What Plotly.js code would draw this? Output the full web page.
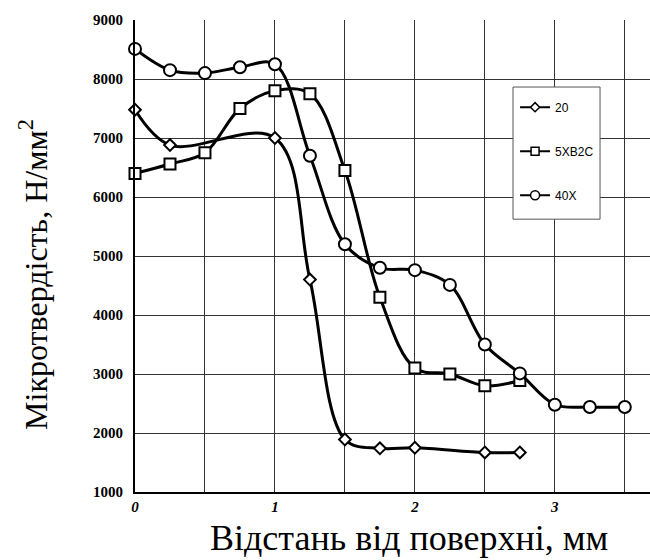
<!DOCTYPE html>
<html>
<head>
<meta charset="utf-8">
<script src="https://cdn.plot.ly/plotly-3.0.1.min.js"></script>
<style>html,body{margin:0;padding:0;background:#fff;overflow:hidden}</style>
</head>
<body>
<div id="chart" style="width:650px;height:560px"></div>
<script>
const seriesNames = ['20', '5XB2C', '40X'];
const x20 = [0, 0.25, 1.0, 1.25, 1.5, 1.75, 2.0, 2.5, 2.75];
const y20 = [7480, 6880, 7000, 4600, 1890, 1740, 1750, 1670, 1670];
const x5 = [0, 0.25, 0.5, 0.75, 1.0, 1.25, 1.5, 1.75, 2.0, 2.25, 2.5, 2.75];
const y5 = [6400, 6560, 6750, 7500, 7800, 7750, 6450, 4300, 3100, 3000, 2800, 2890];
const x40 = [0, 0.25, 0.5, 0.75, 1.0, 1.25, 1.5, 1.75, 2.0, 2.25, 2.5, 2.75, 3.0, 3.25, 3.5];
const y40 = [8510, 8150, 8100, 8200, 8250, 6700, 5200, 4800, 4760, 4510, 3500, 3010, 2480, 2440, 2440];
const xTickVals = [0, 1, 2, 3];
const xTickText = ['0', '1', '2', '3'];
const yTickVals = [1000, 2000, 3000, 4000, 5000, 6000, 7000, 8000, 9000];
const xTitle = 'Відстань від поверхні, мм';
const yTitle = 'Мікротвердість, Н/мм<sup>2</sup>';

const symbols = ['diamond', 'square', 'circle'];
const sizes = [9, 11, 12];
const legendSizes = [7, 8, 9];
const xs = [x20, x5, x40];
const ys = [y20, y5, y40];

const traces = seriesNames.map((n, i) => ({
  x: xs[i], y: ys[i], name: n, type: 'scatter', mode: 'lines+markers',
  showlegend: false,
  line: {color: '#000', width: 3, shape: 'spline', smoothing: 1},
  marker: {symbol: symbols[i], size: sizes[i], color: '#fff', line: {color: '#000', width: 2}},
  cliponaxis: false
}));
// legend-only entries (thinner sample lines, smaller markers, as in the reference legend)
seriesNames.forEach((n, i) => traces.push({
  x: [null], y: [null], name: n, type: 'scatter', mode: 'lines+markers',
  legendgroup: 'g' + i, showlegend: true,
  line: {color: '#000', width: 2},
  marker: {symbol: symbols[i], size: legendSizes[i], color: '#fff', line: {color: '#000', width: 1.5}}
}));

const gridStyle = {showgrid: true, gridcolor: '#333', gridwidth: 1};

const layout = {
  width: 650, height: 560,
  margin: {l: 135, r: 0, t: 20, b: 68},
  paper_bgcolor: '#fff', plot_bgcolor: '#fff',
  showlegend: true,
  legend: {
    x: 0.738, y: 0.846, xanchor: 'left', yanchor: 'top',
    bgcolor: 'rgba(0,0,0,0)', borderwidth: 0,
    font: {family: 'Liberation Sans, Arial', size: 12, color: '#000'},
    tracegroupgap: 25, itemwidth: 30
  },
  shapes: [{
    type: 'rect', xref: 'paper', yref: 'paper', layer: 'above',
    x0: 0.734, x1: 0.903, y0: 0.578, y1: 0.858,
    fillcolor: '#fff', line: {color: '#555', width: 1}
  }],
  xaxis: Object.assign({
    range: [0, 3.68], tickvals: xTickVals, ticktext: xTickText,
    minor: {dtick: 0.5, tick0: 0, showgrid: true, gridcolor: '#333', gridwidth: 1, ticks: ''},
    showline: true, linecolor: '#000', linewidth: 2, zeroline: false,
    ticks: '', tickfont: {family: 'Liberation Serif', size: 15, color: '#000', weight: 'bold', style: 'italic'},
    automargin: false
  }, gridStyle),
  yaxis: Object.assign({
    range: [1000, 9000], tickvals: yTickVals,
    showline: true, linecolor: '#000', linewidth: 2, zeroline: false,
    ticks: '', ticklabelstandoff: 7,
    tickfont: {family: 'Liberation Serif', size: 15, color: '#000', weight: 'bold'},
    automargin: false
  }, gridStyle),
  annotations: [{
    text: yTitle, xref: 'paper', yref: 'paper',
    x: -0.198, y: 0.46, textangle: -90, showarrow: false,
    xanchor: 'center', yanchor: 'middle',
    font: {family: 'Liberation Serif, Times New Roman', size: 32, color: '#000'}
  }, {
    text: xTitle, xref: 'paper', yref: 'paper',
    x: 0.533, y: -0.097, showarrow: false,
    xanchor: 'center', yanchor: 'middle',
    font: {family: 'Liberation Serif, Times New Roman', size: 36, color: '#000'}
  }]
};

Plotly.newPlot('chart', traces, layout, {displayModeBar: false, staticPlot: true});
</script>
</body>
</html>
